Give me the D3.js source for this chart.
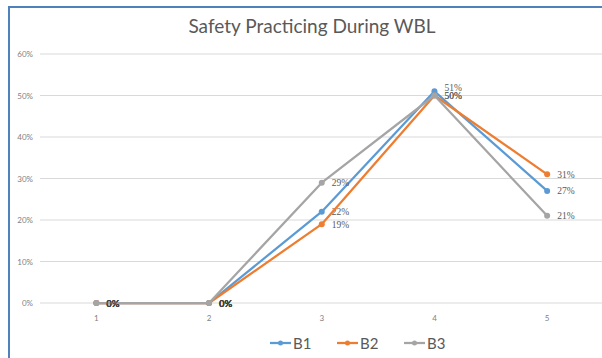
<!DOCTYPE html>
<html>
<head>
<meta charset="UTF-8">
<title>Safety Practicing During WBL</title>
<style>
  body { margin: 0; background: #fff; }
  svg { display: block; }
</style>
<script src="https://d3js.org/d3.v7.min.js"></script>
</head>
<body>
<script>
// data
const categories = ["1", "2", "3", "4", "5"];
const seriesNames = ["B1", "B2", "B3"];
const b1 = [0, 0, 22, 51, 27];
const b2 = [0, 0, 19, 50, 31];
const b3 = [0, 0, 29, 50, 21];
const yTicks = [0, 10, 20, 30, 40, 50, 60];
const colors = ["#5b9bd5", "#ed7d31", "#a5a5a5"];

const W = 602, H = 358;
const svg = d3.select("body").append("svg").attr("width", W).attr("height", H);

// chart frame (blue border, left + top visible)
svg.append("path")
  .attr("d", `M9,${H} L9,7 L${W},7`)
  .attr("fill", "none")
  .attr("stroke", "#4f81bd")
  .attr("stroke-width", 2);

const x = d3.scalePoint().domain(categories).range([40, 603.5]).padding(0.5);
const y = d3.scaleLinear().domain([0, 60]).range([303, 54]);

// gridlines
svg.append("g").selectAll("line")
  .data(yTicks)
  .join("line")
  .attr("x1", 40).attr("x2", W)
  .attr("y1", d => y(d)).attr("y2", d => y(d))
  .attr("stroke", "#d9d9d9").attr("stroke-width", 1);

// y labels
svg.append("g").selectAll("text")
  .data(yTicks)
  .join("text")
  .attr("x", 33).attr("y", d => y(d) + 3)
  .attr("text-anchor", "end")
  .attr("font-family", "Lato, 'Open Sans', sans-serif")
  .attr("font-size", 8)
  .attr("fill", "#7f7f7f")
  .text(d => d + "%");

// x labels
svg.append("g").selectAll("text")
  .data(categories)
  .join("text")
  .attr("x", d => x(d)).attr("y", 321)
  .attr("text-anchor", "middle")
  .attr("font-family", "Lato, 'Open Sans', sans-serif")
  .attr("font-size", 8)
  .attr("fill", "#7f7f7f")
  .text(d => d);

// title
svg.append("text")
  .attr("x", 312).attr("y", 33)
  .attr("text-anchor", "middle")
  .attr("font-family", "Lato, 'Open Sans', sans-serif")
  .attr("font-size", 19)
  .attr("fill", "#595959")
  .text("Safety Practicing During WBL");

const series = [b1, b2, b3].map((vals, i) => ({
  name: seriesNames[i], color: colors[i],
  points: vals.map((v, j) => ({ cat: categories[j], v }))
}));

const line = d3.line().x(d => x(d.cat)).y(d => y(d.v));

const sg = svg.append("g").selectAll("g")
  .data(series)
  .join("g");

sg.append("path")
  .attr("d", d => line(d.points))
  .attr("fill", "none")
  .attr("stroke", d => d.color)
  .attr("stroke-width", 2.25)
  .attr("stroke-linejoin", "round");

sg.selectAll("circle")
  .data(d => d.points.map(p => ({ ...p, color: d.color })))
  .join("circle")
  .attr("cx", d => x(d.cat)).attr("cy", d => y(d.v))
  .attr("r", 3)
  .attr("fill", d => d.color);

// data labels
sg.selectAll("text")
  .data(d => d.points)
  .join("text")
  .attr("x", d => x(d.cat) + 10)
  .attr("y", d => y(d.v) + (d.v === 51 ? -0.5 : 3.5))
  .attr("font-family", d => d.v === 0 ? "Lato, 'Open Sans', sans-serif" : "'Liberation Serif', serif")
  .attr("font-weight", d => d.v === 0 ? "bold" : "normal")
  .attr("font-size", 9.5)
  .attr("fill", d => d.v === 0 ? "#404040" : "#595959")
  .text(d => d.v + "%");

// legend
const lg = svg.append("g").selectAll("g")
  .data(series)
  .join("g")
  .attr("transform", (d, i) => `translate(${270 + i * 67},343)`);
lg.append("line")
  .attr("x1", 0).attr("x2", 21).attr("y1", 0).attr("y2", 0)
  .attr("stroke", d => d.color).attr("stroke-width", 2.25);
lg.append("circle").attr("cx", 10.5).attr("cy", 0).attr("r", 2.5).attr("fill", d => d.color);
lg.append("text")
  .attr("x", 23).attr("y", 5.5)
  .attr("font-family", "Lato, 'Open Sans', sans-serif")
  .attr("font-size", 15)
  .attr("fill", "#595959")
  .text(d => d.name);
</script>
</body>
</html>
